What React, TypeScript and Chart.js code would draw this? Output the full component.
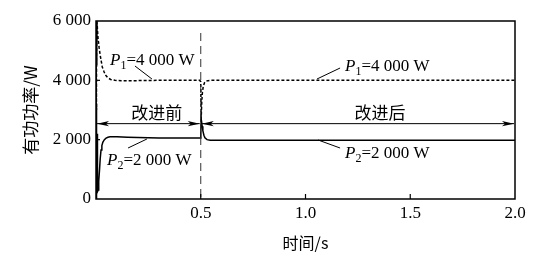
import React, { useEffect, useRef } from "react";
import { Chart, registerables } from "chart.js";
Chart.register(...registerables);

// ---- data ----
const p1Time = [0, 0.001, 0.002, 0.003, 0.004, 0.005, 0.007, 0.01, 0.015, 0.02, 0.025, 0.03, 0.038, 0.045, 0.057, 0.07, 0.09, 0.12, 0.2, 0.3, 0.4, 0.495, 0.5, 0.501, 0.502, 0.503, 0.505, 0.508, 0.512, 0.518, 0.525, 0.535, 0.55, 0.7, 1.0, 1.5, 2.0];
const p1Power = [0, 6000, 3000, 6000, 4500, 6000, 5700, 5400, 5100, 4850, 4650, 4450, 4300, 4180, 4080, 4030, 4000, 3990, 3990, 4000, 4000, 4000, 3950, 3300, 2600, 2900, 3300, 3600, 3800, 3920, 3970, 3990, 4000, 4000, 4000, 4000, 4000];
const p2Time = [0, 0.001, 0.002, 0.003, 0.004, 0.005, 0.006, 0.008, 0.01, 0.012, 0.014, 0.017, 0.02, 0.024, 0.028, 0.033, 0.04, 0.048, 0.057, 0.067, 0.08, 0.1, 0.15, 0.2, 0.3, 0.4, 0.497, 0.5, 0.501, 0.502, 0.504, 0.507, 0.51, 0.515, 0.52, 0.53, 0.545, 0.6, 1.0, 1.5, 2.0];
const p2Power = [0, 3200, 100, 2800, 200, 2200, 300, 250, 300, 400, 600, 1000, 1350, 1650, 1800, 1920, 2000, 2050, 2080, 2095, 2100, 2095, 2080, 2070, 2060, 2060, 2060, 2100, 2400, 2650, 2600, 2450, 2300, 2150, 2060, 2000, 1980, 1980, 1980, 1980, 1980];
const xTickValues = [0.5, 1.0, 1.5, 2.0];
const yTickValues = [0, 2000, 4000, 6000];
const xTitle = "时间/s";
const yTitle = "有功功率/W";
const stageLabels = ["改进前", "改进后"];
const stageBounds = [0, 0.5, 2.0];
const switchTime = 0.5;
const seriesNames = ["P1", "P2"];
const seriesSubs = ["1", "2"];
const seriesRefText = ["=4 000 W", "=2 000 W"];

// ---- annotation placement (data coordinates) ----
const stageArrowLevel = 2540;
const stageLabelPos = [
  { t: 0.29, v: 2916 },
  { t: 1.356, v: 2916 },
];
const seriesLabels = [
  { s: 0, t: 0.067, v: 4520, l: [0.186, 4483, 0.267, 4045] },
  { s: 0, t: 1.189, v: 4315, l: [1.165, 4415, 1.055, 4045] },
  { s: 1, t: 0.0525, v: 1146, l: [0.153, 1719, 0.243, 2022] },
  { s: 1, t: 1.189, v: 1382, l: [1.165, 1719, 1.06, 1989] },
];
const switchLineTop = 5595;

const SERIF = "'Liberation Serif', 'DejaVu Serif', serif";
const CJK = "'Noto Sans CJK SC', sans-serif";

function fmtThousands(v: number): string {
  return String(v).replace(/\B(?=(\d{3})+(?!\d))/g, " ");
}

const decorPlugin = {
  id: "decor",
  afterDatasetsDraw(chart: any) {
    const { ctx, chartArea: a, scales } = chart;
    const xs = scales.x;
    const ys = scales.y;
    ctx.save();
    // switch line
    ctx.strokeStyle = "#333";
    ctx.lineWidth = 1;
    ctx.setLineDash([8, 5]);
    const sx = xs.getPixelForValue(switchTime);
    ctx.beginPath();
    ctx.moveTo(sx, ys.getPixelForValue(switchLineTop));
    ctx.lineTo(sx, ys.getPixelForValue(0));
    ctx.stroke();
    ctx.setLineDash([]);

    // border
    ctx.strokeStyle = "#000";
    ctx.lineWidth = 1.5;
    ctx.strokeRect(a.left, a.top, a.right - a.left, a.bottom - a.top);

    // inward ticks
    ctx.lineWidth = 1.2;
    xTickValues.forEach((v) => {
      const px = xs.getPixelForValue(v);
      if (px >= a.right - 1) return;
      ctx.beginPath();
      ctx.moveTo(px, a.bottom);
      ctx.lineTo(px, a.bottom - 5);
      ctx.stroke();
    });
    yTickValues.forEach((v) => {
      const py = ys.getPixelForValue(v);
      if (py <= a.top + 1 || py >= a.bottom - 1) return;
      ctx.beginPath();
      ctx.moveTo(a.left, py);
      ctx.lineTo(a.left + 4, py);
      ctx.stroke();
    });

    // stage arrows
    const ay = ys.getPixelForValue(stageArrowLevel);
    const arrowHead = (x: number, dir: number) => {
      ctx.beginPath();
      ctx.moveTo(x, ay);
      ctx.lineTo(x - dir * 12, ay - 2.6);
      ctx.lineTo(x - dir * 9, ay);
      ctx.lineTo(x - dir * 12, ay + 2.6);
      ctx.closePath();
      ctx.fill();
    };
    ctx.fillStyle = "#000";
    ctx.lineWidth = 1;
    for (let i = 0; i < stageBounds.length - 1; i++) {
      const x0 = xs.getPixelForValue(stageBounds[i]) + 1;
      const x1 = xs.getPixelForValue(stageBounds[i + 1]) - 1;
      ctx.beginPath();
      ctx.moveTo(x0, ay);
      ctx.lineTo(x1, ay);
      ctx.stroke();
      arrowHead(x0, -1);
      arrowHead(x1, 1);
    }
    ctx.font = `17px ${CJK}`;
    ctx.textAlign = "center";
    ctx.textBaseline = "middle";
    stageLabels.forEach((lab, i) => {
      ctx.fillText(lab, xs.getPixelForValue(stageLabelPos[i].t), ys.getPixelForValue(stageLabelPos[i].v));
    });

    // series labels
    ctx.textAlign = "left";
    ctx.textBaseline = "alphabetic";
    seriesLabels.forEach((sl) => {
      let x = xs.getPixelForValue(sl.t);
      const y = ys.getPixelForValue(sl.v);
      ctx.font = `italic 17px ${SERIF}`;
      const name = seriesNames[sl.s].charAt(0);
      ctx.fillText(name, x, y);
      x += ctx.measureText(name).width;
      ctx.font = `12px ${SERIF}`;
      ctx.fillText(seriesSubs[sl.s], x, y + 4);
      x += ctx.measureText(seriesSubs[sl.s]).width;
      ctx.font = `17px ${SERIF}`;
      ctx.fillText(seriesRefText[sl.s], x, y);
      ctx.lineWidth = 1;
      ctx.beginPath();
      ctx.moveTo(xs.getPixelForValue(sl.l[0]), ys.getPixelForValue(sl.l[1]));
      ctx.lineTo(xs.getPixelForValue(sl.l[2]), ys.getPixelForValue(sl.l[3]));
      ctx.stroke();
    });
    ctx.restore();
  },
};

export default function App() {
  const ref = useRef<HTMLCanvasElement | null>(null);
  useEffect(() => {
    if (!ref.current) return;
    const chart = new Chart(ref.current, {
      type: "line",
      data: {
        datasets: [
          {
            label: seriesNames[0],
            data: p1Time.map((t, i) => ({ x: t, y: p1Power[i] })),
            borderColor: "#000",
            borderWidth: 1.5,
            borderDash: [3, 2],
            pointRadius: 0,
            tension: 0,
            fill: false,
          },
          {
            label: seriesNames[1],
            data: p2Time.map((t, i) => ({ x: t, y: p2Power[i] })),
            borderColor: "#000",
            borderWidth: 1.5,
            pointRadius: 0,
            tension: 0,
            fill: false,
          },
        ],
      },
      options: {
        responsive: false,
        animation: false,
        devicePixelRatio: 1,
        layout: { padding: { left: 0, right: 45, top: 21, bottom: 0 } },
        plugins: { legend: { display: false }, tooltip: { enabled: false } },
        scales: {
          x: {
            type: "linear",
            min: 0,
            max: 2,
            grid: { display: false, drawTicks: false, tickLength: 0 },
            border: { display: false },
            afterBuildTicks: (s: any) => {
              s.ticks = xTickValues.map((v) => ({ value: v }));
            },
            afterFit: (s: any) => {
              s.height = 63;
            },
            ticks: {
              color: "#000",
              padding: 4,
              maxRotation: 0,
              autoSkip: false,
              font: { family: SERIF, size: 17 },
              callback: (v: any) => Number(v).toFixed(1),
            },
            title: {
              display: true,
              text: xTitle,
              color: "#000",
              font: { family: CJK, size: 16 },
              padding: { top: 0, bottom: 9 },
            },
          },
          y: {
            type: "linear",
            min: 0,
            max: 6000,
            grid: { display: false, drawTicks: false, tickLength: 0 },
            border: { display: false },
            afterBuildTicks: (s: any) => {
              s.ticks = yTickValues.map((v) => ({ value: v }));
            },
            afterFit: (s: any) => {
              s.width = 96;
            },
            ticks: {
              color: "#000",
              padding: 5,
              autoSkip: false,
              font: { family: SERIF, size: 17 },
              callback: (v: any) => fmtThousands(Number(v)),
            },
            title: {
              display: true,
              text: yTitle,
              color: "#000",
              font: { family: CJK, size: 17 },
              padding: { top: 20, bottom: 0 },
            },
          },
        },
      },
      plugins: [decorPlugin],
    } as any);
    return () => chart.destroy();
  }, []);
  return (
    <div style={{ position: "fixed", left: 0, top: 0, width: 560, height: 262, background: "#fff" }}>
      <canvas ref={ref} width={560} height={262} />
    </div>
  );
}
